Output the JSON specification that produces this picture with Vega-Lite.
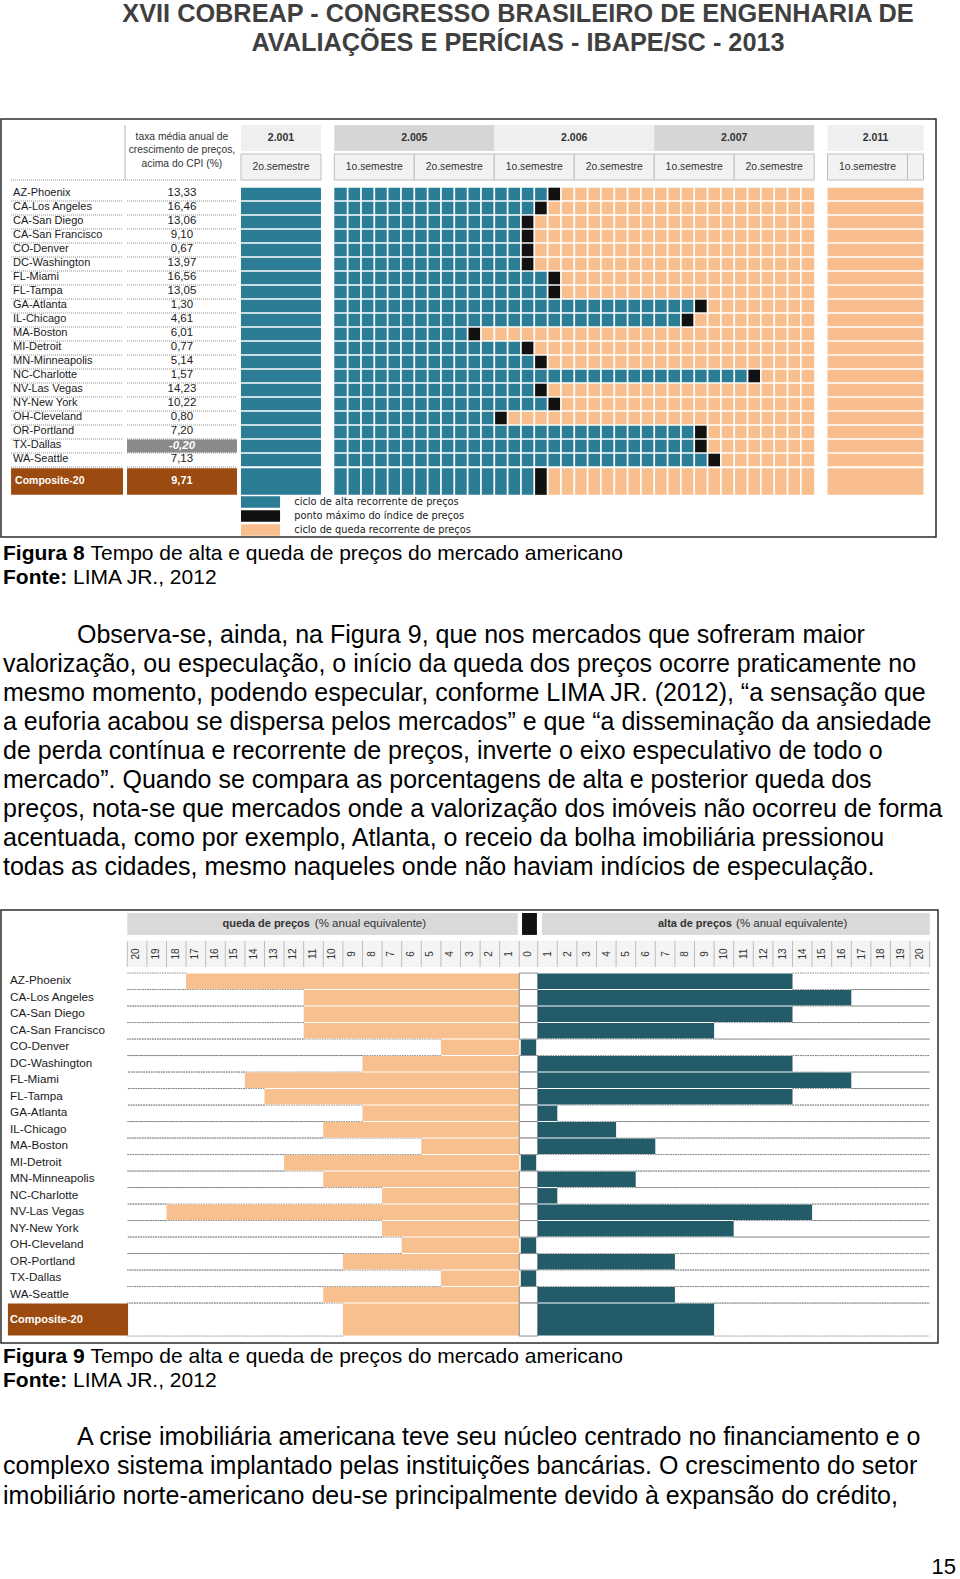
{
"$schema": "https://vega.github.io/schema/vega-lite/v6.json",
"padding": 0,
"spacing": 0,
"bounds": "flush",
"background": "white",
"config": {
  "view": {"stroke": null},
  "locale": {"number": {"decimal": ",", "thousands": ".", "grouping": [3], "currency": ["R$", ""], "minus": "-"}},
  "text": {"font": "Liberation Sans"},
  "scale": {"continuousPadding": 0}
},
"datasets": {
  "cidades": [
    {"cidade":"AZ-Phoenix","row":0,"taxa":13.33,"pico":16,"queda":-17,"alta":13},
    {"cidade":"CA-Los Angeles","row":1,"taxa":16.46,"pico":15,"queda":-11,"alta":16},
    {"cidade":"CA-San Diego","row":2,"taxa":13.06,"pico":14,"queda":-11,"alta":13},
    {"cidade":"CA-San Francisco","row":3,"taxa":9.10,"pico":14,"queda":-11,"alta":9},
    {"cidade":"CO-Denver","row":4,"taxa":0.67,"pico":14,"queda":-4,"alta":0},
    {"cidade":"DC-Washington","row":5,"taxa":13.97,"pico":14,"queda":-8,"alta":13},
    {"cidade":"FL-Miami","row":6,"taxa":16.56,"pico":16,"queda":-14,"alta":16},
    {"cidade":"FL-Tampa","row":7,"taxa":13.05,"pico":16,"queda":-13,"alta":13},
    {"cidade":"GA-Atlanta","row":8,"taxa":1.30,"pico":27,"queda":-8,"alta":1},
    {"cidade":"IL-Chicago","row":9,"taxa":4.61,"pico":26,"queda":-10,"alta":4},
    {"cidade":"MA-Boston","row":10,"taxa":6.01,"pico":10,"queda":-5,"alta":6},
    {"cidade":"MI-Detroit","row":11,"taxa":0.77,"pico":14,"queda":-12,"alta":0},
    {"cidade":"MN-Minneapolis","row":12,"taxa":5.14,"pico":15,"queda":-10,"alta":5},
    {"cidade":"NC-Charlotte","row":13,"taxa":1.57,"pico":31,"queda":-7,"alta":1},
    {"cidade":"NV-Las Vegas","row":14,"taxa":14.23,"pico":15,"queda":-18,"alta":14},
    {"cidade":"NY-New York","row":15,"taxa":10.22,"pico":16,"queda":-7,"alta":10},
    {"cidade":"OH-Cleveland","row":16,"taxa":0.80,"pico":12,"queda":-6,"alta":0},
    {"cidade":"OR-Portland","row":17,"taxa":7.20,"pico":27,"queda":-9,"alta":7},
    {"cidade":"TX-Dallas","row":18,"taxa":-0.20,"pico":27,"queda":-4,"alta":0},
    {"cidade":"WA-Seattle","row":19,"taxa":7.13,"pico":28,"queda":-10,"alta":7},
    {"cidade":"Composite-20","row":20,"taxa":9.71,"pico":15,"queda":-9,"alta":9}
  ],
  "anos8": [
    {"ano":"2.001","inicio":-7,"fim":-1,"meio":-4},
    {"ano":"2.005","inicio":0,"fim":12,"meio":6},
    {"ano":"2.006","inicio":12,"fim":24,"meio":18},
    {"ano":"2.007","inicio":24,"fim":36,"meio":30},
    {"ano":"2.011","inicio":37,"fim":44.2,"meio":40.6}
  ],
  "sem8": [
    {"sem":"2o.semestre","inicio":-7,"fim":-1,"meio":-4},
    {"sem":"1o.semestre","inicio":0,"fim":6,"meio":3},
    {"sem":"2o.semestre","inicio":6,"fim":12,"meio":9},
    {"sem":"1o.semestre","inicio":12,"fim":18,"meio":15},
    {"sem":"2o.semestre","inicio":18,"fim":24,"meio":21},
    {"sem":"1o.semestre","inicio":24,"fim":30,"meio":27},
    {"sem":"2o.semestre","inicio":30,"fim":36,"meio":33},
    {"sem":"1o.semestre","inicio":37,"fim":43,"meio":40},
    {"sem":"","inicio":43,"fim":44.2,"meio":43.6}
  ],
  "meses": [
    {"mes":1},{"mes":2},{"mes":3},{"mes":4},{"mes":5},{"mes":6},{"mes":7},{"mes":8},{"mes":9},{"mes":10},
    {"mes":11},{"mes":12},{"mes":13},{"mes":14},{"mes":15},{"mes":16},{"mes":17},{"mes":18},{"mes":19},{"mes":20},
    {"mes":21},{"mes":22},{"mes":23},{"mes":24},{"mes":25},{"mes":26},{"mes":27},{"mes":28},{"mes":29},{"mes":30},
    {"mes":31},{"mes":32},{"mes":33},{"mes":34},{"mes":35}
  ],
  "legenda8": [
    {"fase":"alta","row":22,"texto":"ciclo de alta recorrente de preços"},
    {"fase":"pico","row":23,"texto":"ponto máximo do índice de preços"},
    {"fase":"queda","row":24,"texto":"ciclo de queda recorrente de preços"}
  ],
  "ticks9": [
    {"u":-20,"rotulo":"20"},{"u":-19,"rotulo":"19"},{"u":-18,"rotulo":"18"},{"u":-17,"rotulo":"17"},{"u":-16,"rotulo":"16"},
    {"u":-15,"rotulo":"15"},{"u":-14,"rotulo":"14"},{"u":-13,"rotulo":"13"},{"u":-12,"rotulo":"12"},{"u":-11,"rotulo":"11"},
    {"u":-10,"rotulo":"10"},{"u":-9,"rotulo":"9"},{"u":-8,"rotulo":"8"},{"u":-7,"rotulo":"7"},{"u":-6,"rotulo":"6"},
    {"u":-5,"rotulo":"5"},{"u":-4,"rotulo":"4"},{"u":-3,"rotulo":"3"},{"u":-2,"rotulo":"2"},{"u":-1,"rotulo":"1"},
    {"u":0,"rotulo":"0"},
    {"u":1,"rotulo":"1"},{"u":2,"rotulo":"2"},{"u":3,"rotulo":"3"},{"u":4,"rotulo":"4"},{"u":5,"rotulo":"5"},
    {"u":6,"rotulo":"6"},{"u":7,"rotulo":"7"},{"u":8,"rotulo":"8"},{"u":9,"rotulo":"9"},{"u":10,"rotulo":"10"},
    {"u":11,"rotulo":"11"},{"u":12,"rotulo":"12"},{"u":13,"rotulo":"13"},{"u":14,"rotulo":"14"},{"u":15,"rotulo":"15"},
    {"u":16,"rotulo":"16"},{"u":17,"rotulo":"17"},{"u":18,"rotulo":"18"},{"u":19,"rotulo":"19"},{"u":20,"rotulo":"20"}
  ],
  "cap8": [
    {"linha":0,"recuo":0,"negrito":"Figura 8","texto":"Tempo de alta e queda de preços do mercado americano"},
    {"linha":1,"recuo":0,"negrito":"Fonte:","texto":"LIMA JR., 2012"}
  ],
  "cap9": [
    {"linha":0,"recuo":0,"negrito":"Figura 9","texto":"Tempo de alta e queda de preços do mercado americano"},
    {"linha":1,"recuo":0,"negrito":"Fonte:","texto":"LIMA JR., 2012"}
  ],
  "par1": [
    {"linha":0,"recuo":1,"texto":"Observa-se, ainda, na Figura 9, que nos mercados que sofreram maior"},
    {"linha":1,"recuo":0,"texto":"valorização, ou especulação, o início da queda dos preços ocorre praticamente no"},
    {"linha":2,"recuo":0,"texto":"mesmo momento, podendo especular, conforme LIMA JR. (2012), “a sensação que"},
    {"linha":3,"recuo":0,"texto":"a euforia acabou se dispersa pelos mercados” e que “a disseminação da ansiedade"},
    {"linha":4,"recuo":0,"texto":"de perda contínua e recorrente de preços, inverte o eixo especulativo de todo o"},
    {"linha":5,"recuo":0,"texto":"mercado”. Quando se compara as porcentagens de alta e posterior queda dos"},
    {"linha":6,"recuo":0,"texto":"preços, nota-se que mercados onde a valorização dos imóveis não ocorreu de forma"},
    {"linha":7,"recuo":0,"texto":"acentuada, como por exemplo, Atlanta, o receio da bolha imobiliária pressionou"},
    {"linha":8,"recuo":0,"texto":"todas as cidades, mesmo naqueles onde não haviam indícios de especulação."}
  ],
  "par2": [
    {"linha":0,"recuo":1,"texto":"A crise imobiliária americana teve seu núcleo centrado no financiamento e o"},
    {"linha":1,"recuo":0,"texto":"complexo sistema implantado pelas instituições bancárias. O crescimento do setor"},
    {"linha":2,"recuo":0,"texto":"imobiliário norte-americano deu-se principalmente devido à expansão do crédito,"}
  ]
},
"vconcat": [
  {
    "width": 960, "height": 119,
    "data": {"values": [
      {"linha":0,"texto":"XVII COBREAP - CONGRESSO BRASILEIRO DE ENGENHARIA DE"},
      {"linha":1,"texto":"AVALIAÇÕES E PERÍCIAS - IBAPE/SC - 2013"}
    ]},
    "mark": {"type":"text","font":"Liberation Sans","fontSize":25.3,"fontWeight":"bold","color":"#3f3f3f","baseline":"middle","align":"center","dx":37},
    "encoding": {
      "y": {"field":"linha","type":"quantitative","scale":{"domain":[-0.514,3.706],"reverse":true,"nice":false,"zero":false,"padding":0},"axis":null},
      "text": {"field":"texto"}
    }
  },
  {
    "width": 935, "height": 418,
    "view": {"stroke": "#2b2b2b", "strokeWidth": 1.5},
    "layer": [
      {"data":{"name":"anos8"},"mark":{"type":"rect"},
       "encoding":{"x":{"field":"inicio","type":"quantitative","scale":{"domain":[-25.004,45.139],"nice":false,"zero":false,"padding":0},"axis":null},"x2":{"field":"fim"},
        "y":{"datum":-4.93,"type":"quantitative","scale":{"domain":[-5.357,24.5],"reverse":true,"nice":false,"zero":false,"padding":0},"axis":null},"y2":{"datum":-3.07},
        "color":{"field":"ano","type":"nominal","scale":{"domain":["2.001","2.005","2.006","2.007","2.011"],"range":["#efefef","#d6d6d6","#efefef","#d6d6d6","#efefef"]},"legend":null}}},
      {"data":{"name":"anos8"},"mark":{"type":"text","fontWeight":"bold","fontSize":10.5,"color":"#333333","baseline":"middle"},
       "encoding":{"x":{"field":"meio","type":"quantitative","scale":{"domain":[-25.004,45.139],"nice":false,"zero":false,"padding":0},"axis":null},
        "y":{"datum":-4.0,"type":"quantitative","scale":{"domain":[-5.357,24.5],"reverse":true,"nice":false,"zero":false,"padding":0},"axis":null},
        "text":{"field":"ano"}}},
      {"data":{"name":"sem8"},"mark":{"type":"rect","fill":"#f2f2f2","stroke":"#bdbdbd","strokeWidth":1},
       "encoding":{"x":{"field":"inicio","type":"quantitative","scale":{"domain":[-25.004,45.139],"nice":false,"zero":false,"padding":0},"axis":null},"x2":{"field":"fim"},
        "y":{"datum":-2.86,"type":"quantitative","scale":{"domain":[-5.357,24.5],"reverse":true,"nice":false,"zero":false,"padding":0},"axis":null},"y2":{"datum":-1.0}}},
      {"data":{"name":"sem8"},"mark":{"type":"text","fontSize":10.4,"color":"#333333","baseline":"middle"},
       "encoding":{"x":{"field":"meio","type":"quantitative","scale":{"domain":[-25.004,45.139],"nice":false,"zero":false,"padding":0},"axis":null},
        "y":{"datum":-1.93,"type":"quantitative","scale":{"domain":[-5.357,24.5],"reverse":true,"nice":false,"zero":false,"padding":0},"axis":null},
        "text":{"field":"sem"}}},
      {"data":{"values":[{"titulo":"taxa"}]},"mark":{"type":"text","fontSize":10.3,"color":"#333333","baseline":"middle","lineHeight":13.3},
       "encoding":{"x":{"datum":-11.43,"type":"quantitative","scale":{"domain":[-25.004,45.139],"nice":false,"zero":false,"padding":0},"axis":null},
        "y":{"datum":-4.07,"type":"quantitative","scale":{"domain":[-5.357,24.5],"reverse":true,"nice":false,"zero":false,"padding":0},"axis":null},
        "text":{"value":["taxa média anual de","crescimento de preços,","acima do CPI (%)"]}}},
      {"data":{"values":[{"linha":"cabecalho"}]},"mark":{"type":"rule","color":"#8c8c8c","strokeDash":[1,1],"strokeWidth":1},
       "encoding":{"x":{"datum":-24.25,"type":"quantitative","scale":{"domain":[-25.004,45.139],"nice":false,"zero":false,"padding":0},"axis":null},"x2":{"datum":-7.3},
        "y":{"datum":-1.0,"type":"quantitative","scale":{"domain":[-5.357,24.5],"reverse":true,"nice":false,"zero":false,"padding":0},"axis":null}}},
      {"data":{"values":[{"linha":"divisoria"}]},"mark":{"type":"rule","color":"#b0b0b0","strokeWidth":1},
       "encoding":{"x":{"datum":-15.7,"type":"quantitative","scale":{"domain":[-25.004,45.139],"nice":false,"zero":false,"padding":0},"axis":null},
        "y":{"datum":-4.93,"type":"quantitative","scale":{"domain":[-5.357,24.5],"reverse":true,"nice":false,"zero":false,"padding":0},"axis":null},"y2":{"datum":-1.0}}},
      {"data":{"name":"cidades"},"transform":[{"filter":"datum.row < 20"}],"mark":{"type":"rule","color":"#8c8c8c","strokeDash":[1,1],"strokeWidth":1,"yOffset":7},
       "encoding":{"x":{"datum":-24.25,"type":"quantitative","scale":{"domain":[-25.004,45.139],"nice":false,"zero":false,"padding":0},"axis":null},"x2":{"datum":-15.85},
        "y":{"field":"row","type":"quantitative","scale":{"domain":[-5.357,24.5],"reverse":true,"nice":false,"zero":false,"padding":0},"axis":null}}},
      {"data":{"name":"cidades"},"transform":[{"filter":"datum.row < 20"}],"mark":{"type":"rule","color":"#8c8c8c","strokeDash":[1,1],"strokeWidth":1,"yOffset":7},
       "encoding":{"x":{"datum":-15.55,"type":"quantitative","scale":{"domain":[-25.004,45.139],"nice":false,"zero":false,"padding":0},"axis":null},"x2":{"datum":-7.3},
        "y":{"field":"row","type":"quantitative","scale":{"domain":[-5.357,24.5],"reverse":true,"nice":false,"zero":false,"padding":0},"axis":null}}},
      {"data":{"name":"cidades"},"transform":[{"filter":"datum.row == 20"}],"mark":{"type":"bar","color":"#9c4b10","height":26.7,"yOffset":7.5},
       "encoding":{"x":{"datum":-24.25,"type":"quantitative","scale":{"domain":[-25.004,45.139],"nice":false,"zero":false,"padding":0},"axis":null},"x2":{"datum":-15.85},
        "y":{"field":"row","type":"quantitative","scale":{"domain":[-5.357,24.5],"reverse":true,"nice":false,"zero":false,"padding":0},"axis":null}}},
      {"data":{"name":"cidades"},"transform":[{"filter":"datum.row == 20"}],"mark":{"type":"bar","color":"#9c4b10","height":26.7,"yOffset":7.5},
       "encoding":{"x":{"datum":-15.55,"type":"quantitative","scale":{"domain":[-25.004,45.139],"nice":false,"zero":false,"padding":0},"axis":null},"x2":{"datum":-7.3},
        "y":{"field":"row","type":"quantitative","scale":{"domain":[-5.357,24.5],"reverse":true,"nice":false,"zero":false,"padding":0},"axis":null}}},
      {"data":{"name":"cidades"},"transform":[{"filter":"datum.row == 18"}],"mark":{"type":"bar","color":"#8a8a8a","height":13},
       "encoding":{"x":{"datum":-15.55,"type":"quantitative","scale":{"domain":[-25.004,45.139],"nice":false,"zero":false,"padding":0},"axis":null},"x2":{"datum":-7.3},
        "y":{"field":"row","type":"quantitative","scale":{"domain":[-5.357,24.5],"reverse":true,"nice":false,"zero":false,"padding":0},"axis":null}}},
      {"data":{"name":"cidades"},"transform":[{"filter":"datum.row < 20"}],"mark":{"type":"text","align":"left","baseline":"middle","fontSize":11,"color":"#1a1a1a","dy":-1},
       "encoding":{"x":{"datum":-24.1,"type":"quantitative","scale":{"domain":[-25.004,45.139],"nice":false,"zero":false,"padding":0},"axis":null},
        "y":{"field":"row","type":"quantitative","scale":{"domain":[-5.357,24.5],"reverse":true,"nice":false,"zero":false,"padding":0},"axis":null},
        "text":{"field":"cidade"}}},
      {"data":{"name":"cidades"},"transform":[{"filter":"datum.row == 20"}],"mark":{"type":"text","align":"left","baseline":"middle","fontSize":10.5,"fontWeight":"bold","color":"#ffffff","yOffset":7.5},
       "encoding":{"x":{"datum":-23.95,"type":"quantitative","scale":{"domain":[-25.004,45.139],"nice":false,"zero":false,"padding":0},"axis":null},
        "y":{"field":"row","type":"quantitative","scale":{"domain":[-5.357,24.5],"reverse":true,"nice":false,"zero":false,"padding":0},"axis":null},
        "text":{"field":"cidade"}}},
      {"data":{"name":"cidades"},"transform":[{"filter":"datum.row < 20 && datum.row != 18"}],"mark":{"type":"text","align":"center","baseline":"middle","fontSize":11.5,"color":"#1a1a1a","dy":-1},
       "encoding":{"x":{"datum":-11.43,"type":"quantitative","scale":{"domain":[-25.004,45.139],"nice":false,"zero":false,"padding":0},"axis":null},
        "y":{"field":"row","type":"quantitative","scale":{"domain":[-5.357,24.5],"reverse":true,"nice":false,"zero":false,"padding":0},"axis":null},
        "text":{"field":"taxa","type":"quantitative","format":".2f"}}},
      {"data":{"name":"cidades"},"transform":[{"filter":"datum.row == 18"}],"mark":{"type":"text","align":"center","baseline":"middle","fontSize":11.5,"fontWeight":"bold","fontStyle":"italic","color":"#ffffff"},
       "encoding":{"x":{"datum":-11.43,"type":"quantitative","scale":{"domain":[-25.004,45.139],"nice":false,"zero":false,"padding":0},"axis":null},
        "y":{"field":"row","type":"quantitative","scale":{"domain":[-5.357,24.5],"reverse":true,"nice":false,"zero":false,"padding":0},"axis":null},
        "text":{"field":"taxa","type":"quantitative","format":".2f"}}},
      {"data":{"name":"cidades"},"transform":[{"filter":"datum.row == 20"}],"mark":{"type":"text","align":"center","baseline":"middle","fontSize":11,"fontWeight":"bold","color":"#ffffff","yOffset":7.5},
       "encoding":{"x":{"datum":-11.43,"type":"quantitative","scale":{"domain":[-25.004,45.139],"nice":false,"zero":false,"padding":0},"axis":null},
        "y":{"field":"row","type":"quantitative","scale":{"domain":[-5.357,24.5],"reverse":true,"nice":false,"zero":false,"padding":0},"axis":null},
        "text":{"field":"taxa","type":"quantitative","format":".2f"}}},
      {"data":{"name":"cidades"},"transform":[{"filter":"datum.row < 20"}],"mark":{"type":"bar","color":"#2b7d95","height":12.6},
       "encoding":{"x":{"datum":-7,"type":"quantitative","scale":{"domain":[-25.004,45.139],"nice":false,"zero":false,"padding":0},"axis":null},"x2":{"datum":-1},
        "y":{"field":"row","type":"quantitative","scale":{"domain":[-5.357,24.5],"reverse":true,"nice":false,"zero":false,"padding":0},"axis":null}}},
      {"data":{"name":"cidades"},"transform":[{"filter":"datum.row == 20"}],"mark":{"type":"bar","color":"#2b7d95","height":26.7,"yOffset":7.5},
       "encoding":{"x":{"datum":-7,"type":"quantitative","scale":{"domain":[-25.004,45.139],"nice":false,"zero":false,"padding":0},"axis":null},"x2":{"datum":-1},
        "y":{"field":"row","type":"quantitative","scale":{"domain":[-5.357,24.5],"reverse":true,"nice":false,"zero":false,"padding":0},"axis":null}}},
      {"data":{"name":"cidades"},"transform":[{"filter":"datum.row < 20"}],"mark":{"type":"bar","color":"#2b7d95","height":12.6},
       "encoding":{"x":{"field":"pico","type":"quantitative","scale":{"domain":[-25.004,45.139],"nice":false,"zero":false,"padding":0},"axis":null},"x2":{"datum":0},
        "y":{"field":"row","type":"quantitative","scale":{"domain":[-5.357,24.5],"reverse":true,"nice":false,"zero":false,"padding":0},"axis":null}}},
      {"data":{"name":"cidades"},"transform":[{"filter":"datum.row == 20"}],"mark":{"type":"bar","color":"#2b7d95","height":26.7,"yOffset":7.5},
       "encoding":{"x":{"field":"pico","type":"quantitative","scale":{"domain":[-25.004,45.139],"nice":false,"zero":false,"padding":0},"axis":null},"x2":{"datum":0},
        "y":{"field":"row","type":"quantitative","scale":{"domain":[-5.357,24.5],"reverse":true,"nice":false,"zero":false,"padding":0},"axis":null}}},
      {"data":{"name":"cidades"},"transform":[{"filter":"datum.row < 20"}],"mark":{"type":"bar","color":"#111111","height":12.6,"x2Offset":13.33},
       "encoding":{"x":{"field":"pico","type":"quantitative","scale":{"domain":[-25.004,45.139],"nice":false,"zero":false,"padding":0},"axis":null},"x2":{"field":"pico"},
        "y":{"field":"row","type":"quantitative","scale":{"domain":[-5.357,24.5],"reverse":true,"nice":false,"zero":false,"padding":0},"axis":null}}},
      {"data":{"name":"cidades"},"transform":[{"filter":"datum.row == 20"}],"mark":{"type":"bar","color":"#111111","height":26.7,"yOffset":7.5,"x2Offset":13.33},
       "encoding":{"x":{"field":"pico","type":"quantitative","scale":{"domain":[-25.004,45.139],"nice":false,"zero":false,"padding":0},"axis":null},"x2":{"field":"pico"},
        "y":{"field":"row","type":"quantitative","scale":{"domain":[-5.357,24.5],"reverse":true,"nice":false,"zero":false,"padding":0},"axis":null}}},
      {"data":{"name":"cidades"},"transform":[{"filter":"datum.row < 20"}],"mark":{"type":"bar","color":"#f9be8e","height":12.6,"xOffset":13.33},
       "encoding":{"x":{"field":"pico","type":"quantitative","scale":{"domain":[-25.004,45.139],"nice":false,"zero":false,"padding":0},"axis":null},"x2":{"datum":36},
        "y":{"field":"row","type":"quantitative","scale":{"domain":[-5.357,24.5],"reverse":true,"nice":false,"zero":false,"padding":0},"axis":null}}},
      {"data":{"name":"cidades"},"transform":[{"filter":"datum.row == 20"}],"mark":{"type":"bar","color":"#f9be8e","height":26.7,"yOffset":7.5,"xOffset":13.33},
       "encoding":{"x":{"field":"pico","type":"quantitative","scale":{"domain":[-25.004,45.139],"nice":false,"zero":false,"padding":0},"axis":null},"x2":{"datum":36},
        "y":{"field":"row","type":"quantitative","scale":{"domain":[-5.357,24.5],"reverse":true,"nice":false,"zero":false,"padding":0},"axis":null}}},
      {"data":{"name":"cidades"},"transform":[{"filter":"datum.row < 20"}],"mark":{"type":"bar","color":"#f9be8e","height":12.6},
       "encoding":{"x":{"datum":37,"type":"quantitative","scale":{"domain":[-25.004,45.139],"nice":false,"zero":false,"padding":0},"axis":null},"x2":{"datum":44.2},
        "y":{"field":"row","type":"quantitative","scale":{"domain":[-5.357,24.5],"reverse":true,"nice":false,"zero":false,"padding":0},"axis":null}}},
      {"data":{"name":"cidades"},"transform":[{"filter":"datum.row == 20"}],"mark":{"type":"bar","color":"#f9be8e","height":26.7,"yOffset":7.5},
       "encoding":{"x":{"datum":37,"type":"quantitative","scale":{"domain":[-25.004,45.139],"nice":false,"zero":false,"padding":0},"axis":null},"x2":{"datum":44.2},
        "y":{"field":"row","type":"quantitative","scale":{"domain":[-5.357,24.5],"reverse":true,"nice":false,"zero":false,"padding":0},"axis":null}}},
      {"data":{"name":"meses"},"mark":{"type":"rule","color":"#ffffff","strokeWidth":1.7},
       "encoding":{"x":{"field":"mes","type":"quantitative","scale":{"domain":[-25.004,45.139],"nice":false,"zero":false,"padding":0},"axis":null},
        "y":{"datum":-0.6,"type":"quantitative","scale":{"domain":[-5.357,24.5],"reverse":true,"nice":false,"zero":false,"padding":0},"axis":null},"y2":{"datum":21.55}}},
      {"data":{"name":"legenda8"},"mark":{"type":"bar","height":11.5},
       "encoding":{"x":{"datum":-7,"type":"quantitative","scale":{"domain":[-25.004,45.139],"nice":false,"zero":false,"padding":0},"axis":null},"x2":{"datum":-4.07},
        "y":{"field":"row","type":"quantitative","scale":{"domain":[-5.357,24.5],"reverse":true,"nice":false,"zero":false,"padding":0},"axis":null},
        "color":{"field":"fase","type":"nominal","scale":{"domain":["alta","pico","queda"],"range":["#2b7d95","#111111","#f9be8e"]},"legend":null}}},
      {"data":{"name":"legenda8"},"mark":{"type":"text","align":"left","baseline":"middle","font":"DejaVu Sans","fontSize":9.8,"color":"#1a1a1a"},
       "encoding":{"x":{"datum":-3.0,"type":"quantitative","scale":{"domain":[-25.004,45.139],"nice":false,"zero":false,"padding":0},"axis":null},
        "y":{"field":"row","type":"quantitative","scale":{"domain":[-5.357,24.5],"reverse":true,"nice":false,"zero":false,"padding":0},"axis":null},
        "text":{"field":"texto"}}}
    ],
    "resolve": {"scale": {"color": "independent"}}
  },
  {
    "width": 960, "height": 63,
    "data": {"name": "cap8"},
    "layer": [
      {"mark":{"type":"text","align":"left","baseline":"middle","fontSize":21,"fontWeight":"bold","color":"#000000"},
       "encoding":{"x":{"field":"recuo","type":"quantitative","scale":{"domain":[-0.027,12.946],"nice":false,"zero":false,"padding":0},"axis":null},
        "y":{"field":"linha","type":"quantitative","scale":{"domain":[-0.723,1.957],"reverse":true,"nice":false,"zero":false,"padding":0},"axis":null},
        "text":{"field":"negrito"}}},
      {"transform":[{"filter":"datum.linha == 0"}],"mark":{"type":"text","align":"left","baseline":"middle","fontSize":21,"color":"#000000","dx":87.5},
       "encoding":{"x":{"field":"recuo","type":"quantitative","scale":{"domain":[-0.027,12.946],"nice":false,"zero":false,"padding":0},"axis":null},
        "y":{"field":"linha","type":"quantitative","scale":{"domain":[-0.723,1.957],"reverse":true,"nice":false,"zero":false,"padding":0},"axis":null},
        "text":{"field":"texto"}}},
      {"transform":[{"filter":"datum.linha == 1"}],"mark":{"type":"text","align":"left","baseline":"middle","fontSize":21,"color":"#000000","dx":70},
       "encoding":{"x":{"field":"recuo","type":"quantitative","scale":{"domain":[-0.027,12.946],"nice":false,"zero":false,"padding":0},"axis":null},
        "y":{"field":"linha","type":"quantitative","scale":{"domain":[-0.723,1.957],"reverse":true,"nice":false,"zero":false,"padding":0},"axis":null},
        "text":{"field":"texto"}}}
    ]
  },
  {
    "width": 960, "height": 310,
    "data": {"name": "par1"},
    "mark": {"type":"text","align":"left","baseline":"middle","fontSize":25,"color":"#000000"},
    "encoding": {
      "x":{"field":"recuo","type":"quantitative","scale":{"domain":[-0.027,12.946],"nice":false,"zero":false,"padding":0},"axis":null},
      "y":{"field":"linha","type":"quantitative","scale":{"domain":[-1.189,9.464],"reverse":true,"nice":false,"zero":false,"padding":0},"axis":null},
      "text":{"field":"texto"}
    }
  },
  {
    "width": 937, "height": 433,
    "view": {"stroke": "#2b2b2b", "strokeWidth": 1.5},
    "layer": [
      {"data":{"values":[{"parte":"queda"}]},"mark":{"type":"rect","color":"#d9d9d9"},
       "encoding":{"x":{"datum":-20.47,"type":"quantitative","scale":{"domain":[-26.913,20.893],"nice":false,"zero":false,"padding":0},"axis":null},"x2":{"datum":-0.55},
        "y":{"datum":-4.14,"type":"quantitative","scale":{"domain":[-4.321,21.921],"reverse":true,"nice":false,"zero":false,"padding":0},"axis":null},"y2":{"datum":-2.81}}},
      {"data":{"values":[{"parte":"alta"}]},"mark":{"type":"rect","color":"#d9d9d9"},
       "encoding":{"x":{"datum":0.69,"type":"quantitative","scale":{"domain":[-26.913,20.893],"nice":false,"zero":false,"padding":0},"axis":null},"x2":{"datum":20.47},
        "y":{"datum":-4.14,"type":"quantitative","scale":{"domain":[-4.321,21.921],"reverse":true,"nice":false,"zero":false,"padding":0},"axis":null},"y2":{"datum":-2.81}}},
      {"data":{"values":[{"parte":"pico"}]},"mark":{"type":"rect","color":"#111111"},
       "encoding":{"x":{"datum":-0.33,"type":"quantitative","scale":{"domain":[-26.913,20.893],"nice":false,"zero":false,"padding":0},"axis":null},"x2":{"datum":0.43},
        "y":{"datum":-4.14,"type":"quantitative","scale":{"domain":[-4.321,21.921],"reverse":true,"nice":false,"zero":false,"padding":0},"axis":null},"y2":{"datum":-2.81}}},
      {"data":{"values":[{"parte":"queda"}]},"mark":{"type":"text","align":"right","baseline":"middle","fontSize":11,"fontWeight":"bold","color":"#333333"},
       "encoding":{"x":{"datum":-11.15,"type":"quantitative","scale":{"domain":[-26.913,20.893],"nice":false,"zero":false,"padding":0},"axis":null},
        "y":{"datum":-3.47,"type":"quantitative","scale":{"domain":[-4.321,21.921],"reverse":true,"nice":false,"zero":false,"padding":0},"axis":null},
        "text":{"value":"queda de preços"}}},
      {"data":{"values":[{"parte":"queda"}]},"mark":{"type":"text","align":"left","baseline":"middle","fontSize":11.5,"color":"#333333"},
       "encoding":{"x":{"datum":-10.9,"type":"quantitative","scale":{"domain":[-26.913,20.893],"nice":false,"zero":false,"padding":0},"axis":null},
        "y":{"datum":-3.47,"type":"quantitative","scale":{"domain":[-4.321,21.921],"reverse":true,"nice":false,"zero":false,"padding":0},"axis":null},
        "text":{"value":"(% anual equivalente)"}}},
      {"data":{"values":[{"parte":"alta"}]},"mark":{"type":"text","align":"right","baseline":"middle","fontSize":11,"fontWeight":"bold","color":"#333333"},
       "encoding":{"x":{"datum":10.38,"type":"quantitative","scale":{"domain":[-26.913,20.893],"nice":false,"zero":false,"padding":0},"axis":null},
        "y":{"datum":-3.47,"type":"quantitative","scale":{"domain":[-4.321,21.921],"reverse":true,"nice":false,"zero":false,"padding":0},"axis":null},
        "text":{"value":"alta de preços"}}},
      {"data":{"values":[{"parte":"alta"}]},"mark":{"type":"text","align":"left","baseline":"middle","fontSize":11.5,"color":"#333333"},
       "encoding":{"x":{"datum":10.59,"type":"quantitative","scale":{"domain":[-26.913,20.893],"nice":false,"zero":false,"padding":0},"axis":null},
        "y":{"datum":-3.47,"type":"quantitative","scale":{"domain":[-4.321,21.921],"reverse":true,"nice":false,"zero":false,"padding":0},"axis":null},
        "text":{"value":"(% anual equivalente)"}}},
      {"data":{"values":[{"parte":"escala"}]},"mark":{"type":"rect","color":"#f4f4f4"},
       "encoding":{"x":{"datum":-20.47,"type":"quantitative","scale":{"domain":[-26.913,20.893],"nice":false,"zero":false,"padding":0},"axis":null},"x2":{"datum":20.47},
        "y":{"datum":-2.45,"type":"quantitative","scale":{"domain":[-4.321,21.921],"reverse":true,"nice":false,"zero":false,"padding":0},"axis":null},"y2":{"datum":-0.87}}},
      {"data":{"name":"ticks9"},"transform":[{"filter":"datum.u <= 0"}],"mark":{"type":"rule","color":"#bdbdbd","strokeWidth":1,"xOffset":-9.2},
       "encoding":{"x":{"field":"u","type":"quantitative","scale":{"domain":[-26.913,20.893],"nice":false,"zero":false,"padding":0},"axis":null},
        "y":{"datum":-2.45,"type":"quantitative","scale":{"domain":[-4.321,21.921],"reverse":true,"nice":false,"zero":false,"padding":0},"axis":null},"y2":{"datum":-0.87}}},
      {"data":{"name":"ticks9"},"transform":[{"filter":"datum.u >= 0"}],"mark":{"type":"rule","color":"#bdbdbd","strokeWidth":1,"xOffset":9.2},
       "encoding":{"x":{"field":"u","type":"quantitative","scale":{"domain":[-26.913,20.893],"nice":false,"zero":false,"padding":0},"axis":null},
        "y":{"datum":-2.45,"type":"quantitative","scale":{"domain":[-4.321,21.921],"reverse":true,"nice":false,"zero":false,"padding":0},"axis":null},"y2":{"datum":-0.87}}},
      {"data":{"name":"ticks9"},"mark":{"type":"text","align":"center","baseline":"middle","fontSize":10,"angle":270,"color":"#333333"},
       "encoding":{"x":{"field":"u","type":"quantitative","scale":{"domain":[-26.913,20.893],"nice":false,"zero":false,"padding":0},"axis":null},
        "y":{"datum":-1.66,"type":"quantitative","scale":{"domain":[-4.321,21.921],"reverse":true,"nice":false,"zero":false,"padding":0},"axis":null},
        "text":{"field":"rotulo"}}},
      {"data":{"name":"cidades"},"mark":{"type":"rule","color":"#8a8a8a","strokeDash":[1.5,1],"strokeWidth":1,"yOffset":-8.25,"xOffset":-9.2},
       "encoding":{"x":{"field":"queda","type":"quantitative","scale":{"domain":[-26.913,20.893],"nice":false,"zero":false,"padding":0},"axis":null},"x2":{"datum":-20.47},
        "y":{"field":"row","type":"quantitative","scale":{"domain":[-4.321,21.921],"reverse":true,"nice":false,"zero":false,"padding":0},"axis":null}}},
      {"data":{"name":"cidades"},"transform":[{"filter":"datum.row < 20"}],"mark":{"type":"rule","color":"#8a8a8a","strokeDash":[1.5,1],"strokeWidth":1,"yOffset":8.25,"xOffset":-9.2},
       "encoding":{"x":{"field":"queda","type":"quantitative","scale":{"domain":[-26.913,20.893],"nice":false,"zero":false,"padding":0},"axis":null},"x2":{"datum":-20.47},
        "y":{"field":"row","type":"quantitative","scale":{"domain":[-4.321,21.921],"reverse":true,"nice":false,"zero":false,"padding":0},"axis":null}}},
      {"data":{"name":"cidades"},"transform":[{"filter":"datum.row == 20"}],"mark":{"type":"rule","color":"#8a8a8a","strokeDash":[1.5,1],"strokeWidth":1,"yOffset":24.75,"xOffset":-9.2},
       "encoding":{"x":{"field":"queda","type":"quantitative","scale":{"domain":[-26.913,20.893],"nice":false,"zero":false,"padding":0},"axis":null},"x2":{"datum":-20.47},
        "y":{"field":"row","type":"quantitative","scale":{"domain":[-4.321,21.921],"reverse":true,"nice":false,"zero":false,"padding":0},"axis":null}}},
      {"data":{"name":"cidades"},"mark":{"type":"rule","color":"#8a8a8a","strokeDash":[1.5,1],"strokeWidth":1,"yOffset":-8.25,"xOffset":9.2},
       "encoding":{"x":{"field":"alta","type":"quantitative","scale":{"domain":[-26.913,20.893],"nice":false,"zero":false,"padding":0},"axis":null},"x2":{"datum":20.47},
        "y":{"field":"row","type":"quantitative","scale":{"domain":[-4.321,21.921],"reverse":true,"nice":false,"zero":false,"padding":0},"axis":null}}},
      {"data":{"name":"cidades"},"transform":[{"filter":"datum.row < 20"}],"mark":{"type":"rule","color":"#8a8a8a","strokeDash":[1.5,1],"strokeWidth":1,"yOffset":8.25,"xOffset":9.2},
       "encoding":{"x":{"field":"alta","type":"quantitative","scale":{"domain":[-26.913,20.893],"nice":false,"zero":false,"padding":0},"axis":null},"x2":{"datum":20.47},
        "y":{"field":"row","type":"quantitative","scale":{"domain":[-4.321,21.921],"reverse":true,"nice":false,"zero":false,"padding":0},"axis":null}}},
      {"data":{"name":"cidades"},"transform":[{"filter":"datum.row == 20"}],"mark":{"type":"rule","color":"#8a8a8a","strokeDash":[1.5,1],"strokeWidth":1,"yOffset":24.75,"xOffset":9.2},
       "encoding":{"x":{"field":"alta","type":"quantitative","scale":{"domain":[-26.913,20.893],"nice":false,"zero":false,"padding":0},"axis":null},"x2":{"datum":20.47},
        "y":{"field":"row","type":"quantitative","scale":{"domain":[-4.321,21.921],"reverse":true,"nice":false,"zero":false,"padding":0},"axis":null}}},
      {"data":{"name":"cidades"},"transform":[{"filter":"datum.row < 20"}],"mark":{"type":"bar","color":"#f8bf8f","height":15.5,"xOffset":-9.2,"x2Offset":-9.2},
       "encoding":{"x":{"field":"queda","type":"quantitative","scale":{"domain":[-26.913,20.893],"nice":false,"zero":false,"padding":0},"axis":null},"x2":{"datum":0},
        "y":{"field":"row","type":"quantitative","scale":{"domain":[-4.321,21.921],"reverse":true,"nice":false,"zero":false,"padding":0},"axis":null}}},
      {"data":{"name":"cidades"},"transform":[{"filter":"datum.row == 20"}],"mark":{"type":"bar","color":"#f8bf8f","height":32,"yOffset":8.25,"xOffset":-9.2,"x2Offset":-9.2},
       "encoding":{"x":{"field":"queda","type":"quantitative","scale":{"domain":[-26.913,20.893],"nice":false,"zero":false,"padding":0},"axis":null},"x2":{"datum":0},
        "y":{"field":"row","type":"quantitative","scale":{"domain":[-4.321,21.921],"reverse":true,"nice":false,"zero":false,"padding":0},"axis":null}}},
      {"data":{"name":"cidades"},"transform":[{"filter":"datum.alta > 0 && datum.row < 20"}],"mark":{"type":"bar","fill":"#ffffff","stroke":"#8a8a8a","strokeWidth":1,"height":16.5,"xOffset":-9.2,"x2Offset":9.2},
       "encoding":{"x":{"datum":0,"type":"quantitative","scale":{"domain":[-26.913,20.893],"nice":false,"zero":false,"padding":0},"axis":null},"x2":{"datum":0},
        "y":{"field":"row","type":"quantitative","scale":{"domain":[-4.321,21.921],"reverse":true,"nice":false,"zero":false,"padding":0},"axis":null}}},
      {"data":{"name":"cidades"},"transform":[{"filter":"datum.row == 20"}],"mark":{"type":"bar","fill":"#ffffff","stroke":"#8a8a8a","strokeWidth":1,"height":33,"yOffset":8.25,"xOffset":-9.2,"x2Offset":9.2},
       "encoding":{"x":{"datum":0,"type":"quantitative","scale":{"domain":[-26.913,20.893],"nice":false,"zero":false,"padding":0},"axis":null},"x2":{"datum":0},
        "y":{"field":"row","type":"quantitative","scale":{"domain":[-4.321,21.921],"reverse":true,"nice":false,"zero":false,"padding":0},"axis":null}}},
      {"data":{"name":"cidades"},"transform":[{"filter":"datum.alta == 0"}],"mark":{"type":"bar","color":"#235b69","height":15.5,"xOffset":-7.7,"x2Offset":7.7},
       "encoding":{"x":{"datum":0,"type":"quantitative","scale":{"domain":[-26.913,20.893],"nice":false,"zero":false,"padding":0},"axis":null},"x2":{"datum":0},
        "y":{"field":"row","type":"quantitative","scale":{"domain":[-4.321,21.921],"reverse":true,"nice":false,"zero":false,"padding":0},"axis":null}}},
      {"data":{"name":"cidades"},"transform":[{"filter":"datum.alta > 0 && datum.row < 20"}],"mark":{"type":"bar","color":"#235b69","height":15.5,"xOffset":9.2,"x2Offset":9.2},
       "encoding":{"x":{"field":"alta","type":"quantitative","scale":{"domain":[-26.913,20.893],"nice":false,"zero":false,"padding":0},"axis":null},"x2":{"datum":0},
        "y":{"field":"row","type":"quantitative","scale":{"domain":[-4.321,21.921],"reverse":true,"nice":false,"zero":false,"padding":0},"axis":null}}},
      {"data":{"name":"cidades"},"transform":[{"filter":"datum.row == 20"}],"mark":{"type":"bar","color":"#235b69","height":32,"yOffset":8.25,"xOffset":9.2,"x2Offset":9.2},
       "encoding":{"x":{"field":"alta","type":"quantitative","scale":{"domain":[-26.913,20.893],"nice":false,"zero":false,"padding":0},"axis":null},"x2":{"datum":0},
        "y":{"field":"row","type":"quantitative","scale":{"domain":[-4.321,21.921],"reverse":true,"nice":false,"zero":false,"padding":0},"axis":null}}},
      {"data":{"name":"cidades"},"transform":[{"filter":"datum.row < 20"}],"mark":{"type":"text","align":"left","baseline":"middle","fontSize":11.7,"color":"#1a1a1a","dy":-1},
       "encoding":{"x":{"datum":-26.45,"type":"quantitative","scale":{"domain":[-26.913,20.893],"nice":false,"zero":false,"padding":0},"axis":null},
        "y":{"field":"row","type":"quantitative","scale":{"domain":[-4.321,21.921],"reverse":true,"nice":false,"zero":false,"padding":0},"axis":null},
        "text":{"field":"cidade"}}},
      {"data":{"name":"cidades"},"transform":[{"filter":"datum.row == 20"}],"mark":{"type":"bar","color":"#9c4b10","height":32,"yOffset":8.25},
       "encoding":{"x":{"datum":-26.56,"type":"quantitative","scale":{"domain":[-26.913,20.893],"nice":false,"zero":false,"padding":0},"axis":null},"x2":{"datum":-20.43},
        "y":{"field":"row","type":"quantitative","scale":{"domain":[-4.321,21.921],"reverse":true,"nice":false,"zero":false,"padding":0},"axis":null}}},
      {"data":{"name":"cidades"},"transform":[{"filter":"datum.row == 20"}],"mark":{"type":"text","align":"left","baseline":"middle","fontSize":11,"fontWeight":"bold","color":"#ffffff","yOffset":8.25},
       "encoding":{"x":{"datum":-26.45,"type":"quantitative","scale":{"domain":[-26.913,20.893],"nice":false,"zero":false,"padding":0},"axis":null},
        "y":{"field":"row","type":"quantitative","scale":{"domain":[-4.321,21.921],"reverse":true,"nice":false,"zero":false,"padding":0},"axis":null},
        "text":{"field":"cidade"}}}
    ]
  },
  {
    "width": 960, "height": 63,
    "data": {"name": "cap9"},
    "layer": [
      {"mark":{"type":"text","align":"left","baseline":"middle","fontSize":21,"fontWeight":"bold","color":"#000000"},
       "encoding":{"x":{"field":"recuo","type":"quantitative","scale":{"domain":[-0.027,12.946],"nice":false,"zero":false,"padding":0},"axis":null},
        "y":{"field":"linha","type":"quantitative","scale":{"domain":[-0.596,2.085],"reverse":true,"nice":false,"zero":false,"padding":0},"axis":null},
        "text":{"field":"negrito"}}},
      {"transform":[{"filter":"datum.linha == 0"}],"mark":{"type":"text","align":"left","baseline":"middle","fontSize":21,"color":"#000000","dx":87.5},
       "encoding":{"x":{"field":"recuo","type":"quantitative","scale":{"domain":[-0.027,12.946],"nice":false,"zero":false,"padding":0},"axis":null},
        "y":{"field":"linha","type":"quantitative","scale":{"domain":[-0.596,2.085],"reverse":true,"nice":false,"zero":false,"padding":0},"axis":null},
        "text":{"field":"texto"}}},
      {"transform":[{"filter":"datum.linha == 1"}],"mark":{"type":"text","align":"left","baseline":"middle","fontSize":21,"color":"#000000","dx":70},
       "encoding":{"x":{"field":"recuo","type":"quantitative","scale":{"domain":[-0.027,12.946],"nice":false,"zero":false,"padding":0},"axis":null},
        "y":{"field":"linha","type":"quantitative","scale":{"domain":[-0.596,2.085],"reverse":true,"nice":false,"zero":false,"padding":0},"axis":null},
        "text":{"field":"texto"}}}
    ]
  },
  {
    "width": 960, "height": 134,
    "data": {"name": "par2"},
    "mark": {"type":"text","align":"left","baseline":"middle","fontSize":25,"color":"#000000"},
    "encoding": {
      "x":{"field":"recuo","type":"quantitative","scale":{"domain":[-0.027,12.946],"nice":false,"zero":false,"padding":0},"axis":null},
      "y":{"field":"linha","type":"quantitative","scale":{"domain":[-1.079,3.526],"reverse":true,"nice":false,"zero":false,"padding":0},"axis":null},
      "text":{"field":"texto"}
    }
  },
  {
    "width": 960, "height": 39,
    "data": {"values": [{"pagina":"15"}]},
    "mark": {"type":"text","align":"right","baseline":"middle","fontSize":22,"color":"#000000","dx":475,"dy":7},
    "encoding": {"text": {"field":"pagina"}}
  }
]
}
